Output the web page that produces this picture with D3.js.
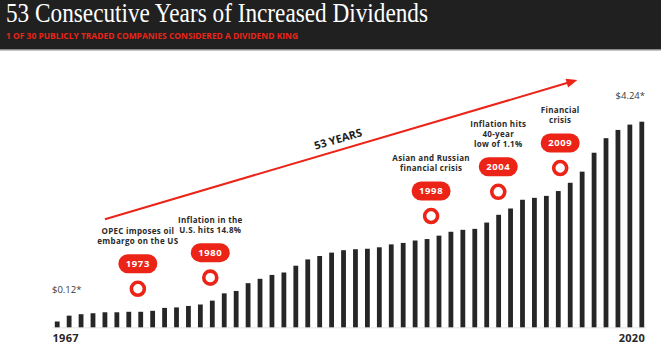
<!DOCTYPE html>
<html>
<head>
<meta charset="utf-8">
<script src="https://cdn.jsdelivr.net/npm/d3@7"></script>
<style>
  body { margin: 0; background: #fff; }
  svg { display: block; }
</style>
</head>
<body>
<svg id="chart"></svg>
<script>
// Annual dividend per share, one bar per year shown (first = 1967, last = 2020)
const dividends = [
  0.12, 0.24, 0.27, 0.29, 0.31, 0.31, 0.32, 0.32, 0.34, 0.40,
  0.41, 0.44, 0.47, 0.55, 0.70, 0.75, 0.91, 1.00, 1.08, 1.13,
  1.27, 1.40, 1.47, 1.54, 1.59, 1.61, 1.62, 1.65, 1.71, 1.74,
  1.79, 1.82, 1.89, 1.97, 2.01, 2.03, 2.16, 2.32, 2.45, 2.63,
  2.67, 2.71, 2.81, 2.98, 3.21, 3.60, 3.90, 4.07, 4.18, 4.24
];
const firstYear = '1967';
const lastYear = '2020';
const firstLabel = '$0.12*';
const lastLabel = '$4.24*';

// Events: pill year, bar slot it sits over, caption lines
const eventYears = ['1973', '1980', '1998', '2004', '2009'];
const eventSlots = [6.76, 12.83, 31.34, 36.97, 42.16];
const eventTexts = [
  ['OPEC imposes oil', 'embargo on the US'],
  ['Inflation in the', 'U.S. hits 14.8%'],
  ['Asian and Russian', 'financial crisis'],
  ['Inflation hits', '40-year', 'low of 1.1%'],
  ['Financial', 'crisis']
];

const titleText = '53 Consecutive Years of Increased Dividends';
const subtitleText = '1 OF 30 PUBLICLY TRADED COMPANIES CONSIDERED A DIVIDEND KING';
const arrowText = '53 YEARS';
// arrow from / to, in [bar slot, dividend level]
const arrowFrom = [4.0, 2.23];
const arrowTo = [43.6, 5.10];

class DividendChart {

  constructor(_config) {
    this.config = {
      parentElement: _config.parentElement,
      containerWidth: _config.containerWidth || 661,
      containerHeight: _config.containerHeight || 352
    };
  }

  initVis() {
    let vis = this;

    vis.red = '#ec2418';
    vis.ink = '#262626';
    vis.sans = '"Open Sans", "DejaVu Sans", sans-serif';

    vis.svg = d3.select(vis.config.parentElement)
        .attr('width', vis.config.containerWidth)
        .attr('height', vis.config.containerHeight);

    // Bar slots -> x
    vis.x = d3.scaleLinear()
        .domain([0, dividends.length - 1])
        .range([57.2, 641.8]);

    // Dividend -> y
    vis.y = d3.scaleLinear()
        .domain([0, 4.24])
        .range([327.3, 121.7]);

    vis.barWidth = 4.8;
  }

  render() {
    let vis = this;

    // Header band
    vis.svg.append('rect')
        .attr('width', vis.config.containerWidth)
        .attr('height', 50)
        .attr('fill', '#202020');
    vis.svg.append('rect')
        .attr('y', 49)
        .attr('width', vis.config.containerWidth)
        .attr('height', 1.5)
        .attr('fill', '#8a8a8a');

    vis.svg.append('text')
        .attr('x', 6)
        .attr('y', 21.5)
        .attr('fill', '#fff')
        .attr('font-family', '"Liberation Serif", "DejaVu Serif", serif')
        .attr('font-size', 26.5)
        .attr('textLength', 422)
        .attr('lengthAdjust', 'spacingAndGlyphs')
        .text(titleText);

    vis.svg.append('text')
        .attr('x', 6)
        .attr('y', 38.5)
        .attr('fill', vis.red)
        .attr('font-family', vis.sans)
        .attr('font-weight', 700)
        .attr('font-size', 9.5)
        .attr('textLength', 292)
        .attr('lengthAdjust', 'spacingAndGlyphs')
        .text(subtitleText);

    // Baseline
    vis.svg.append('line')
        .attr('x1', vis.x(0) - 5)
        .attr('x2', vis.x(dividends.length - 1) + 5)
        .attr('y1', vis.y(0) + 0.5)
        .attr('y2', vis.y(0) + 0.5)
        .attr('stroke', '#e4e4e4')
        .attr('stroke-width', 1);

    // Bars
    vis.svg.selectAll('.bar')
        .data(dividends)
      .join('rect')
        .attr('class', 'bar')
        .attr('x', (d, i) => vis.x(i) - vis.barWidth / 2)
        .attr('y', d => vis.y(d))
        .attr('width', vis.barWidth)
        .attr('height', d => vis.y(0) - vis.y(d))
        .attr('fill', vis.ink);

    // Year labels at both ends
    vis.svg.append('text')
        .attr('x', 52.5)
        .attr('y', 342)
        .attr('fill', vis.ink)
        .attr('font-family', vis.sans)
        .attr('font-weight', 700)
        .attr('font-size', 11)
        .attr('letter-spacing', 0.3)
        .text(firstYear);
    vis.svg.append('text')
        .attr('x', 645)
        .attr('y', 342)
        .attr('text-anchor', 'end')
        .attr('fill', vis.ink)
        .attr('font-family', vis.sans)
        .attr('font-weight', 700)
        .attr('font-size', 11)
        .attr('letter-spacing', 0.3)
        .text(lastYear);

    // Value labels
    vis.svg.append('text')
        .attr('x', 52)
        .attr('y', 293)
        .attr('fill', '#3a3a3a')
        .attr('font-family', vis.sans)
        .attr('font-size', 9.5)
        .text(firstLabel);
    vis.svg.append('text')
        .attr('x', 645)
        .attr('y', 98.5)
        .attr('text-anchor', 'end')
        .attr('fill', '#3a3a3a')
        .attr('font-family', vis.sans)
        .attr('font-size', 9.5)
        .text(lastLabel);

    vis.drawArrow();
    vis.drawEvents();
  }

  drawArrow() {
    let vis = this;

    let x1 = vis.x(arrowFrom[0]), y1 = vis.y(arrowFrom[1]);
    let x2 = vis.x(arrowTo[0]), y2 = vis.y(arrowTo[1]);
    let ang = Math.atan2(y2 - y1, x2 - x1);
    let headLen = 11, headHalf = 4.5;

    // Shaft stops at the base of the head
    vis.svg.append('line')
        .attr('x1', x1)
        .attr('y1', y1)
        .attr('x2', x2 - Math.cos(ang) * (headLen - 1))
        .attr('y2', y2 - Math.sin(ang) * (headLen - 1))
        .attr('stroke', vis.red)
        .attr('stroke-width', 2);

    let deg = ang * 180 / Math.PI;
    vis.svg.append('path')
        .attr('d', `M0,0 L${-headLen},${-headHalf} L${-headLen},${headHalf} Z`)
        .attr('transform', `translate(${x2},${y2}) rotate(${deg})`)
        .attr('fill', vis.red);

    // Label sitting above the shaft
    let t = 0.5;
    let mx = x1 + (x2 - x1) * t, my = y1 + (y2 - y1) * t;
    vis.svg.append('text')
        .attr('transform', `translate(${mx},${my}) rotate(${deg}) translate(0,-7)`)
        .attr('text-anchor', 'middle')
        .attr('fill', '#1e1e1e')
        .attr('font-family', vis.sans)
        .attr('font-weight', 700)
        .attr('font-size', 11)
        .text(arrowText);
  }

  drawEvents() {
    let vis = this;

    let events = eventYears.map((year, i) => ({
      year: year,
      slot: eventSlots[i],
      lines: eventTexts[i]
    }));

    let g = vis.svg.selectAll('.event')
        .data(events)
      .join('g')
        .attr('class', 'event')
        .attr('transform', d => {
          let cy = vis.y(dividends[Math.round(d.slot)]) - 23;
          return `translate(${vis.x(d.slot)},${cy})`;
        });

    // Ring marker
    g.append('circle')
        .attr('r', 6.5)
        .attr('fill', '#fff')
        .attr('stroke', vis.red)
        .attr('stroke-width', 3.6);

    // Year pill
    g.append('rect')
        .attr('x', -19.5)
        .attr('y', -25 - 9.5)
        .attr('width', 39)
        .attr('height', 19)
        .attr('rx', 9.5)
        .attr('fill', vis.red);
    g.append('text')
        .attr('y', -25 + 3.4)
        .attr('text-anchor', 'middle')
        .attr('fill', '#fff')
        .attr('font-family', vis.sans)
        .attr('font-weight', 700)
        .attr('font-size', 9.5)
        .attr('letter-spacing', 0.6)
        .text(d => d.year);

    // Caption
    g.append('text')
        .attr('text-anchor', 'middle')
        .attr('fill', '#2a2a2a')
        .attr('font-family', vis.sans)
        .attr('font-weight', 700)
        .attr('font-size', 8)
        .attr('letter-spacing', 0.3)
        .selectAll('tspan')
        .data(d => d.lines.map((l, i) => ({ l: l, i: i, n: d.lines.length })))
      .join('tspan')
        .attr('x', 0)
        .attr('y', d => -45 - (d.n - 1 - d.i) * 9.8)
        .text(d => d.l);
  }
}

let chart = new DividendChart({ parentElement: '#chart' });
chart.initVis();
chart.render();
</script>
</body>
</html>
